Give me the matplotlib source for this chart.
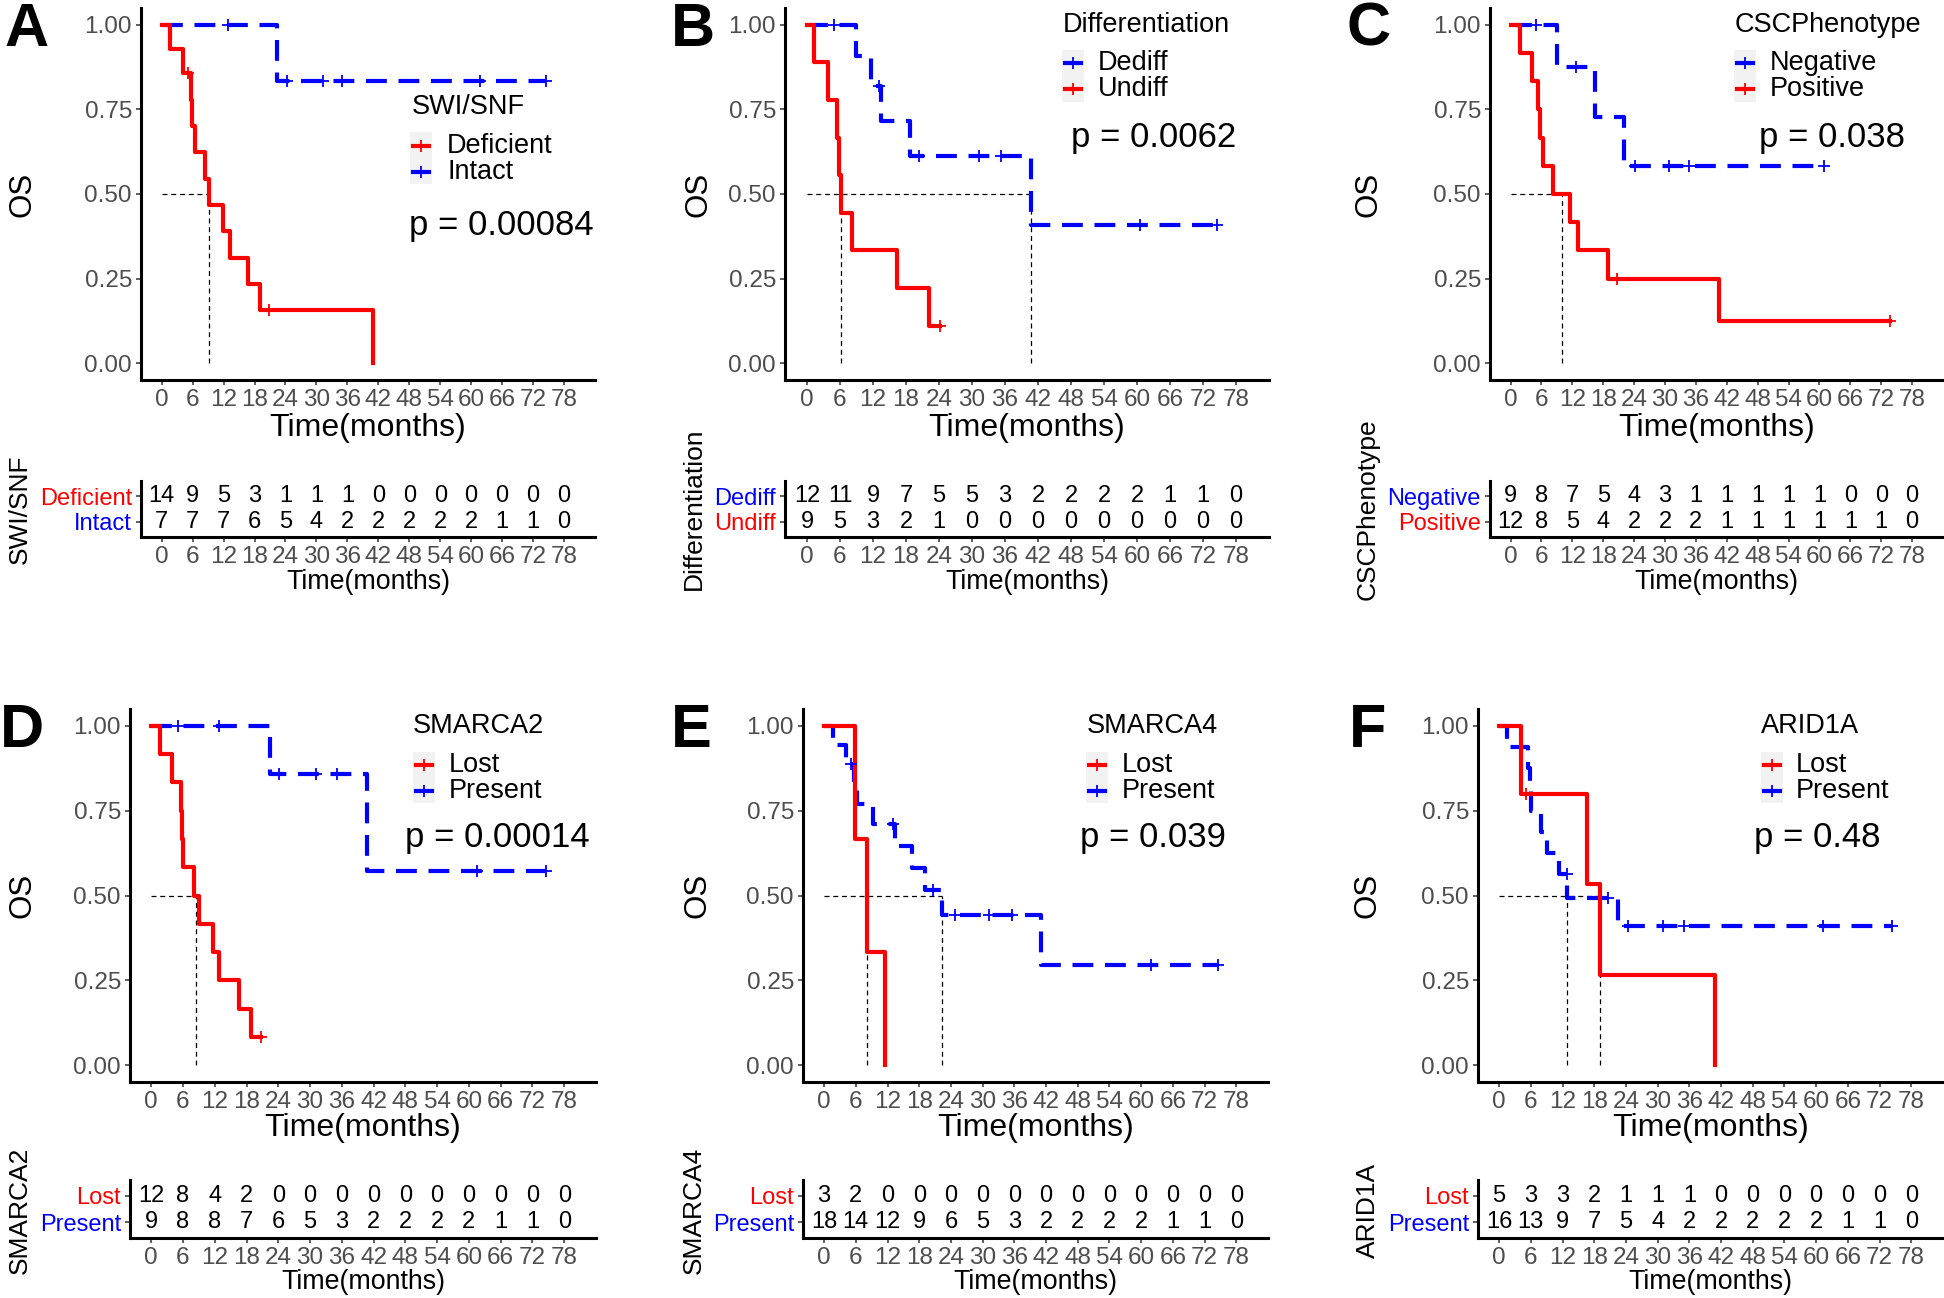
import matplotlib.pyplot as plt
from matplotlib.lines import Line2D
from matplotlib.patches import Rectangle

plt.rcParams['font.family'] = ['Liberation Sans', 'DejaVu Sans']

W, H = 1944, 1298
RED = '#FF0000'
BLUE = '#0000FF'
GREY = '#4D4D4D'

t_ticks = list(range(0, 79, 6))

# ---- A: SWI/SNF ----
a_def_n = 14
a_def_events = [1.7, 4.1, 5.75, 5.9, 6.4, 8.4, 9.2, 11.8, 13.2, 16.7, 19.1, 40.9]
a_def_cens = [5.1, 20.9]
a_def_risk = [14, 9, 5, 3, 1, 1, 1, 0, 0, 0, 0, 0, 0, 0]
a_int_n = 7
a_int_events = [22.4]
a_int_cens = [12.8, 24.3, 31.2, 35.0, 61.7, 74.5]
a_int_risk = [7, 7, 7, 6, 5, 4, 2, 2, 2, 2, 2, 1, 1, 0]

# ---- B: Differentiation ----
b_ded_n = 12
b_ded_events = [8.9, 11.6, 13.5, 18.7, 40.8]
b_ded_cens = [4.9, 13.0, 20.4, 31.2, 35.2, 60.6, 74.6]
b_ded_risk = [12, 11, 9, 7, 5, 5, 3, 2, 2, 2, 2, 1, 1, 0]
b_und_n = 9
b_und_events = [1.3, 3.8, 5.4, 5.8, 6.2, 8.1, 16.4, 22.2]
b_und_cens = [24.2]
b_und_risk = [9, 5, 3, 2, 1, 0, 0, 0, 0, 0, 0, 0, 0, 0]

# ---- C: CSCPhenotype ----
c_neg_n = 9
c_neg_events = [9.0, 16.4, 22.1]
c_neg_cens = [5.0, 12.8, 24.2, 30.8, 34.7, 60.8]
c_neg_risk = [9, 8, 7, 5, 4, 3, 1, 1, 1, 1, 1, 0, 0, 0]
c_pos_n = 12
c_pos_events = [1.8, 4.1, 5.4, 5.8, 6.3, 8.2, 11.6, 13.1, 18.9, 40.5]
c_pos_cens = [20.6, 73.7]
c_pos_risk = [12, 8, 5, 4, 2, 2, 2, 1, 1, 1, 1, 1, 1, 0]

# ---- D: SMARCA2 ----
d_lost_n = 12
d_lost_events = [1.6, 4.0, 5.6, 5.9, 6.1, 8.0, 9.0, 11.6, 12.9, 16.5, 18.9]
d_lost_cens = [20.7]
d_lost_risk = [12, 8, 4, 2, 0, 0, 0, 0, 0, 0, 0, 0, 0, 0]
d_pres_n = 9
d_pres_events = [22.4, 40.8]
d_pres_cens = [5.0, 12.9, 24.1, 31.1, 35.0, 61.5, 74.5]
d_pres_risk = [9, 8, 8, 7, 6, 5, 3, 2, 2, 2, 2, 1, 1, 0]

# ---- E: SMARCA4 ----
e_lost_n = 3
e_lost_events = [5.9, 8.2, 11.6]
e_lost_cens = []
e_lost_risk = [3, 2, 0, 0, 0, 0, 0, 0, 0, 0, 0, 0, 0, 0]
e_pres_n = 18
e_pres_events = [1.6, 4.2, 5.7, 6.3, 9.2, 13.4, 16.7, 19.1, 22.3, 41.0]
e_pres_cens = [5.0, 13.0, 20.6, 24.8, 31.2, 35.5, 61.8, 74.6]
e_pres_risk = [18, 14, 12, 9, 6, 5, 3, 2, 2, 2, 2, 1, 1, 0]

# ---- F: ARID1A ----
f_lost_n = 5
f_lost_events = [4.1, 16.6, 19.1, 40.9]
f_lost_cens = [5.0]
f_lost_risk = [5, 3, 3, 2, 1, 1, 1, 0, 0, 0, 0, 0, 0, 0]
f_pres_n = 16
f_pres_events = [1.5, 5.5, 5.8, 6.1, 7.9, 9.0, 11.4, 12.9, 22.5]
f_pres_cens = [12.8, 20.6, 24.3, 31.0, 35.0, 61.3, 74.3]
f_pres_risk = [16, 13, 9, 7, 5, 4, 2, 2, 2, 2, 2, 1, 1, 0]


def km(n, events, cens):
    times = sorted(set(events) | set(cens))
    s, risk = 1.0, n
    xs, ys, cx, cy = [0.0], [1.0], [], []
    for t in times:
        d, c = events.count(t), cens.count(t)
        if d:
            s *= 1 - d / risk
            xs.append(t)
            ys.append(s)
        if c:
            cx.append(t)
            cy.append(s)
        risk -= d + c
    if xs[-1] < times[-1]:
        xs.append(times[-1])
        ys.append(s)
    return xs, ys, cx, cy


def median(xs, ys):
    for i in range(1, len(ys)):
        if ys[i] < 0.5 - 1e-9:
            if abs(ys[i - 1] - 0.5) < 1e-9:
                return (xs[i - 1] + xs[i]) / 2
            return xs[i]
    return None


# rows: main axes top/bottom, table top/bottom, label heights (px)
rows = [
    dict(top=8, bot=380, ttop=481, tbot=537, xlab=428, txlab=582, ttit=509, os=194),
    dict(top=709, bot=1082, ttop=1180, tbot=1238, xlab=1128, txlab=1282, ttit=1210, os=895),
]

panels = [
    dict(letter='A', row=0, left=141, right=595, title='SWI/SNF', p='p = 0.00084',
         letter_xy=(27, 46), os_x=22, tt_x=20,
         leg=dict(tx=412, ty=107, bx=410, by=(132, 184), lx=447, ly=(146, 172), px=409, py=226),
         groups=[('Deficient', RED, a_def_n, a_def_events, a_def_cens, a_def_risk),
                 ('Intact', BLUE, a_int_n, a_int_events, a_int_cens, a_int_risk)]),
    dict(letter='B', row=0, left=785, right=1269, title='Differentiation', p='p = 0.0062',
         letter_xy=(693, 46), os_x=698, tt_x=694,
         leg=dict(tx=1063, ty=25, bx=1062, by=(50, 102), lx=1098, ly=(63, 89), px=1071, py=137),
         groups=[('Dediff', BLUE, b_ded_n, b_ded_events, b_ded_cens, b_ded_risk),
                 ('Undiff', RED, b_und_n, b_und_events, b_und_cens, b_und_risk)]),
    dict(letter='C', row=0, left=1490, right=1943, title='CSCPhenotype', p='p = 0.038',
         letter_xy=(1369, 46), os_x=1368, tt_x=1368,
         leg=dict(tx=1735, ty=25, bx=1734, by=(50, 102), lx=1770, ly=(63, 89), px=1759, py=137),
         groups=[('Negative', BLUE, c_neg_n, c_neg_events, c_neg_cens, c_neg_risk),
                 ('Positive', RED, c_pos_n, c_pos_events, c_pos_cens, c_pos_risk)]),
    dict(letter='D', row=1, left=130, right=596, title='SMARCA2', p='p = 0.00014',
         letter_xy=(22, 747), os_x=22, tt_x=20,
         leg=dict(tx=413, ty=726, bx=413, by=(752, 803), lx=449, ly=(765, 791), px=405, py=838),
         groups=[('Lost', RED, d_lost_n, d_lost_events, d_lost_cens, d_lost_risk),
                 ('Present', BLUE, d_pres_n, d_pres_events, d_pres_cens, d_pres_risk)]),
    dict(letter='E', row=1, left=803, right=1268, title='SMARCA4', p='p = 0.039',
         letter_xy=(691, 747), os_x=697, tt_x=694,
         leg=dict(tx=1087, ty=726, bx=1086, by=(752, 803), lx=1122, ly=(765, 791), px=1080, py=838),
         groups=[('Lost', RED, e_lost_n, e_lost_events, e_lost_cens, e_lost_risk),
                 ('Present', BLUE, e_pres_n, e_pres_events, e_pres_cens, e_pres_risk)]),
    dict(letter='F', row=1, left=1478, right=1943, title='ARID1A', p='p = 0.48',
         letter_xy=(1368, 747), os_x=1367, tt_x=1368,
         leg=dict(tx=1761, ty=726, bx=1761, by=(752, 803), lx=1796, ly=(765, 791), px=1754, py=838),
         groups=[('Lost', RED, f_lost_n, f_lost_events, f_lost_cens, f_lost_risk),
                 ('Present', BLUE, f_pres_n, f_pres_events, f_pres_cens, f_pres_risk)]),
]


def fx(x):
    return x / W


def fy(y):
    return 1 - y / H


def box(l, r, t, b):
    return [fx(l), fy(b), (r - l) / W, (b - t) / H]


def style(ax):
    for s in ['top', 'right']:
        ax.spines[s].set_visible(False)
    for s in ['left', 'bottom']:
        ax.spines[s].set_linewidth(2.2)
    ax.tick_params(length=3.5, width=1.1, color='#333333', labelsize=17.5, labelcolor=GREY, pad=3)
    ax.set_xlim(-4, 84)
    ax.set_xticks(t_ticks)


fig = plt.figure(figsize=(W / 100, H / 100), dpi=100)

for p in panels:
    r = rows[p['row']]
    ax = fig.add_axes(box(p['left'], p['right'], r['top'], r['bot']))
    style(ax)
    ax.set_ylim(-0.05, 1.05)
    ax.set_yticks([0, 0.25, 0.5, 0.75, 1.0])
    ax.set_yticklabels(['0.00', '0.25', '0.50', '0.75', '1.00'])

    meds = []
    for name, col, n, ev, ce, risk in p['groups']:
        xs, ys, cx, cy = km(n, ev, ce)
        m = median(xs, ys)
        if m is not None:
            meds.append(m)
        if col == BLUE:
            ax.plot(xs, ys, drawstyle='steps-post', color=col, lw=3.0,
                    dashes=(5.0, 2.8), zorder=3)
        else:
            ax.plot(xs, ys, drawstyle='steps-post', color=col, lw=3.0, zorder=4)
        ax.plot(cx, cy, ls='none', marker='+', ms=9, mew=1.3, color=col, zorder=5)
    if meds:
        ax.plot([0, max(meds)], [0.5, 0.5], color='black', lw=0.9, dashes=(4, 3), zorder=2)
        for m in meds:
            ax.plot([m, m], [0, 0.5], color='black', lw=0.9, dashes=(4, 3), zorder=2)

    # risk table
    tx = fig.add_axes(box(p['left'], p['right'], r['ttop'], r['tbot']))
    style(tx)
    tx.set_ylim(0.4, 2.6)
    tx.set_yticks([2, 1])
    tx.set_yticklabels([g[0] for g in p['groups']], fontsize=17)
    for lab, g in zip(tx.get_yticklabels(), p['groups']):
        lab.set_color(g[1])
    for yrow, g in zip([2, 1], p['groups']):
        for t, v in zip(t_ticks, g[5]):
            tx.text(t, yrow, str(v), ha='center', va='center', fontsize=17, color='black')

    cx_mid = (p['left'] + p['right']) / 2
    fig.text(fx(cx_mid), fy(r['xlab']), 'Time(months)', ha='center', va='center', fontsize=23)
    fig.text(fx(cx_mid), fy(r['txlab']), 'Time(months)', ha='center', va='center', fontsize=19.3)
    fig.text(fx(p['os_x']), fy(r['os']), 'OS', rotation=90, ha='center', va='center', fontsize=22.5)
    fig.text(fx(p['tt_x']), fy(r['ttit']), p['title'], rotation=90, ha='center', va='center',
             fontsize=19)
    fig.text(fx(p['letter_xy'][0]), fy(p['letter_xy'][1]), p['letter'], ha='center', va='baseline',
             fontsize=44, fontweight='bold')

    # legend
    lg = p['leg']
    fig.text(fx(lg['tx']), fy(lg['ty']), p['title'], ha='left', va='center', fontsize=19.5)
    fig.add_artist(Rectangle((fx(lg['bx']), fy(lg['by'][1])), 22 / W, (lg['by'][1] - lg['by'][0]) / H,
                             transform=fig.transFigure, facecolor='#F2F2F2', edgecolor='none'))
    for yy, g in zip(lg['ly'], p['groups']):
        fig.add_artist(Line2D([fx(lg['bx'] + 3), fx(lg['bx'] + 19)], [fy(yy), fy(yy)],
                              transform=fig.transFigure, color=g[1], lw=3.0))
        fig.add_artist(Line2D([fx(lg['bx'] + 11)], [fy(yy)], transform=fig.transFigure,
                              color=g[1], marker='+', ms=9, mew=1.3, ls='none'))
        fig.text(fx(lg['lx']), fy(yy), g[0], ha='left', va='center', fontsize=19.5)
    fig.text(fx(lg['px']), fy(lg['py']), p['p'], ha='left', va='center', fontsize=25)

fig.savefig('out.png', dpi=100)
